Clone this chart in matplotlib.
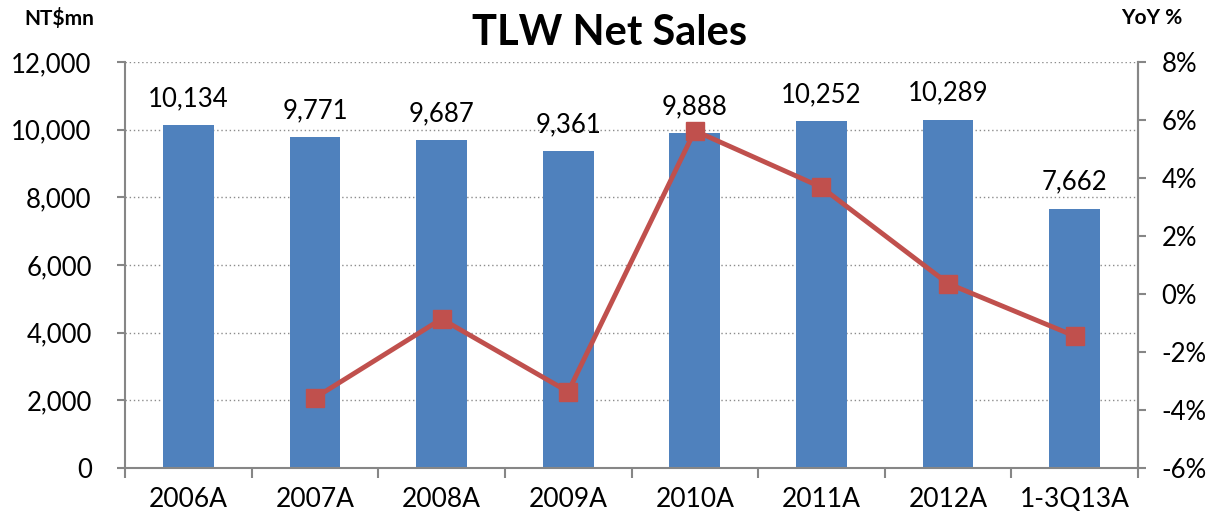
import matplotlib.pyplot as plt
import numpy as np
from matplotlib.ticker import FuncFormatter

# Chart data
categories = ["2006A", "2007A", "2008A", "2009A", "2010A", "2011A", "2012A", "1-3Q13A"]
net_sales = [10134, 9771, 9687, 9361, 9888, 10252, 10289, 7662]
yoy_pct = [None, -3.58, -0.86, -3.37, 5.63, 3.68, 0.36, -1.45]

plt.rcParams['font.family'] = ['Lato', 'DejaVu Sans']

fig = plt.figure(figsize=(12.09, 5.18), dpi=100)
ax = fig.add_axes([125 / 1209, 50 / 518, 1013 / 1209, 406 / 518])
x = np.arange(len(categories))

# Bars
ax.bar(x, net_sales, width=0.4, color="#4F81BD", zorder=2)
for xi, v in zip(x, net_sales):
    ax.text(xi, v + 420, f"{v:,}", ha='center', va='bottom', fontsize=18.5)

ax.set_xlim(-0.5, len(categories) - 0.5)
ax.set_ylim(0, 12000)
ax.set_yticks(range(0, 12001, 2000))
ax.yaxis.set_major_formatter(FuncFormatter(lambda v, p: f"{int(v):,}"))
ax.set_xticks(x)
ax.set_xticklabels(categories)
ax.set_xticks(np.arange(-0.5, len(categories), 1), minor=True)
ax.tick_params(axis='x', which='major', length=0, labelsize=19, pad=14)
ax.tick_params(axis='x', which='minor', length=7, color='#868686', width=1.5)
ax.tick_params(axis='y', length=6, color='#868686', width=1.5, labelsize=18.5, pad=18)
ax.grid(True, axis='y', linestyle=(0, (1, 2)), color='#8c8c8c', linewidth=1, zorder=0)
ax.spines['top'].set_visible(False)
for s in ['left', 'bottom', 'right']:
    ax.spines[s].set_color('#868686')
    ax.spines[s].set_linewidth(1.5)

# YoY line on secondary axis
ax2 = ax.twinx()
xs = [xi for xi, v in zip(x, yoy_pct) if v is not None]
ys = [v for v in yoy_pct if v is not None]
ax2.plot(xs, ys, color="#C0504D", linewidth=3.5, marker='s', markersize=13, zorder=3)
ax2.set_ylim(-6, 8)
ax2.set_yticks(range(-6, 9, 2))
ax2.yaxis.set_major_formatter(FuncFormatter(lambda v, p: f"{int(v)}%"))
ax2.tick_params(axis='y', length=6, color='#868686', width=1.5, labelsize=18.5, pad=11)
ax2.spines['top'].set_visible(False)
ax2.spines['right'].set_color('#868686')
ax2.spines['right'].set_linewidth(1.5)
ax2.spines['left'].set_visible(False)
ax2.spines['bottom'].set_visible(False)

fig.text(610 / 1209, 1 - 33 / 518, "TLW Net Sales", ha='center', va='center', fontsize=30, fontweight='bold')
fig.text(24 / 1209, 1 - 18 / 518, "NT$mn", ha='left', va='center', fontsize=15, fontweight='bold')
fig.text(1152 / 1209, 1 - 18 / 518, "YoY %", ha='center', va='center', fontsize=15, fontweight='bold')

fig.savefig("out.png", dpi=100)
